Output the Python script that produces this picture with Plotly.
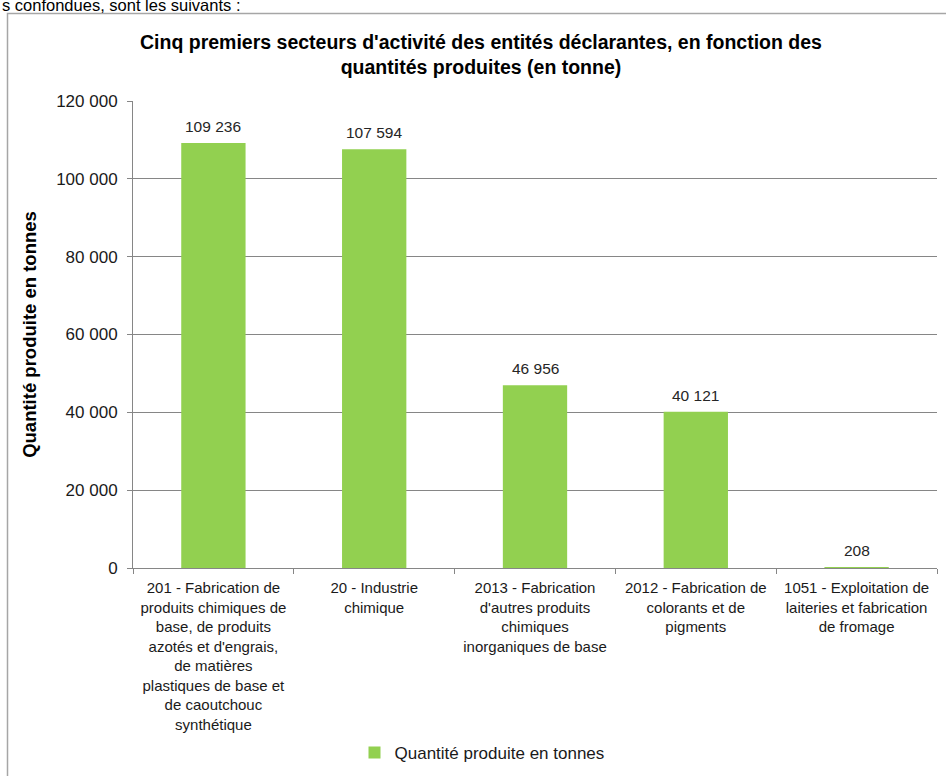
import plotly.graph_objects as go

categories = [
    "201 - Fabrication de<br>produits chimiques de<br>base, de produits<br>azotés et d'engrais,<br>de matières<br>plastiques de base et<br>de caoutchouc<br>synthétique",
    "20 - Industrie<br>chimique",
    "2013 - Fabrication<br>d'autres produits<br>chimiques<br>inorganiques de base",
    "2012 - Fabrication de<br>colorants et de<br>pigments",
    "1051 - Exploitation de<br>laiteries et fabrication<br>de fromage",
]
values = [109236, 107594, 46956, 40121, 208]
series_name = "Quantité produite en tonnes"
y_tickvals = [0, 20000, 40000, 60000, 80000, 100000, 120000]
y_ticktext = ["0", "20 000", "40 000", "60 000", "80 000", "100 000", "120 000"]

W, H = 946, 776
L, R, T, B = 133, 9, 101, 208
pw, ph = W - L - R, H - T - B

def px_x(p):
    return (p - L) / pw

def px_y(p):
    return (H - B - p) / ph

FONT = "Liberation Sans, Arial, sans-serif"
GREEN = "#92D050"
GRID = "#868686"

fig = go.Figure()
fig.add_trace(go.Bar(
    x=categories, y=values, name=series_name,
    marker=dict(color=GREEN, line=dict(width=0)),
    showlegend=True,
))

for c, v in zip(categories, values):
    fig.add_annotation(
        x=c, y=v, xref="x", yref="y",
        text=f"{v:,}".replace(",", " "),
        showarrow=False, yanchor="bottom", yshift=6,
        font=dict(family=FONT, size=15.5, color="#262626"),
    )

# document text above the chart (cut off at top in the original screenshot)
fig.add_annotation(
    x=px_x(0), y=px_y(16), xref="paper", yref="paper",
    text="s confondues, sont les suivants :",
    showarrow=False, xanchor="left", yanchor="bottom",
    font=dict(family=FONT, size=16.5, color="#000000"),
)

# chart frame
fig.add_shape(
    type="rect", xref="paper", yref="paper",
    x0=px_x(7.5), x1=px_x(980), y0=px_y(13.5), y1=px_y(820),
    line=dict(color="#a6a6a6", width=1.5), layer="below",
)

fig.update_layout(
    width=W, height=H,
    margin=dict(l=L, r=R, t=T, b=B, pad=0),
    paper_bgcolor="white", plot_bgcolor="white",
    font=dict(family=FONT, size=15, color="#1a1a1a"),
    separators=", ",
    bargap=0.6,
    title=dict(
        text="Cinq premiers secteurs d'activité des entités déclarantes, en fonction des<br>quantités produites (en tonne)",
        x=481 / W, xanchor="center", xref="container",
        y=1 - 49 / H, yanchor="top", yref="container",
        font=dict(family=FONT, size=19.5, color="#000000", weight="bold"),
    ),
    xaxis=dict(
        tickangle=0, tickson="boundaries", ticks="outside", ticklen=5,
        tickcolor=GRID, showline=True, linecolor=GRID, linewidth=1,
        tickfont=dict(family=FONT, size=15, color="#1a1a1a"),
        showgrid=False, automargin=False, ticklabelstandoff=6,
    ),
    yaxis=dict(
        range=[0, 120000], tickvals=y_tickvals, ticktext=y_ticktext,
        ticks="outside", ticklen=5, tickcolor=GRID,
        showline=True, linecolor=GRID, linewidth=1,
        showgrid=True, gridcolor=GRID, gridwidth=1,
        zeroline=False, automargin=False, ticklabelstandoff=6,
        tickfont=dict(family=FONT, size=17, color="#1a1a1a"),
        title=dict(text="Quantité produite en tonnes",
                   font=dict(family=FONT, size=18.5, color="#000000", weight="bold"),
                   standoff=14),
    ),
    legend=dict(
        orientation="h", xref="container", yref="container",
        x=482 / W, xanchor="center",
        y=(H - 753) / H, yanchor="middle",
        font=dict(family=FONT, size=17, color="#1a1a1a"),
        bgcolor="rgba(0,0,0,0)",
    ),
)

fig.write_html("out.html", config={"displayModeBar": False},
               post_script="document.body.style.margin='0';")
